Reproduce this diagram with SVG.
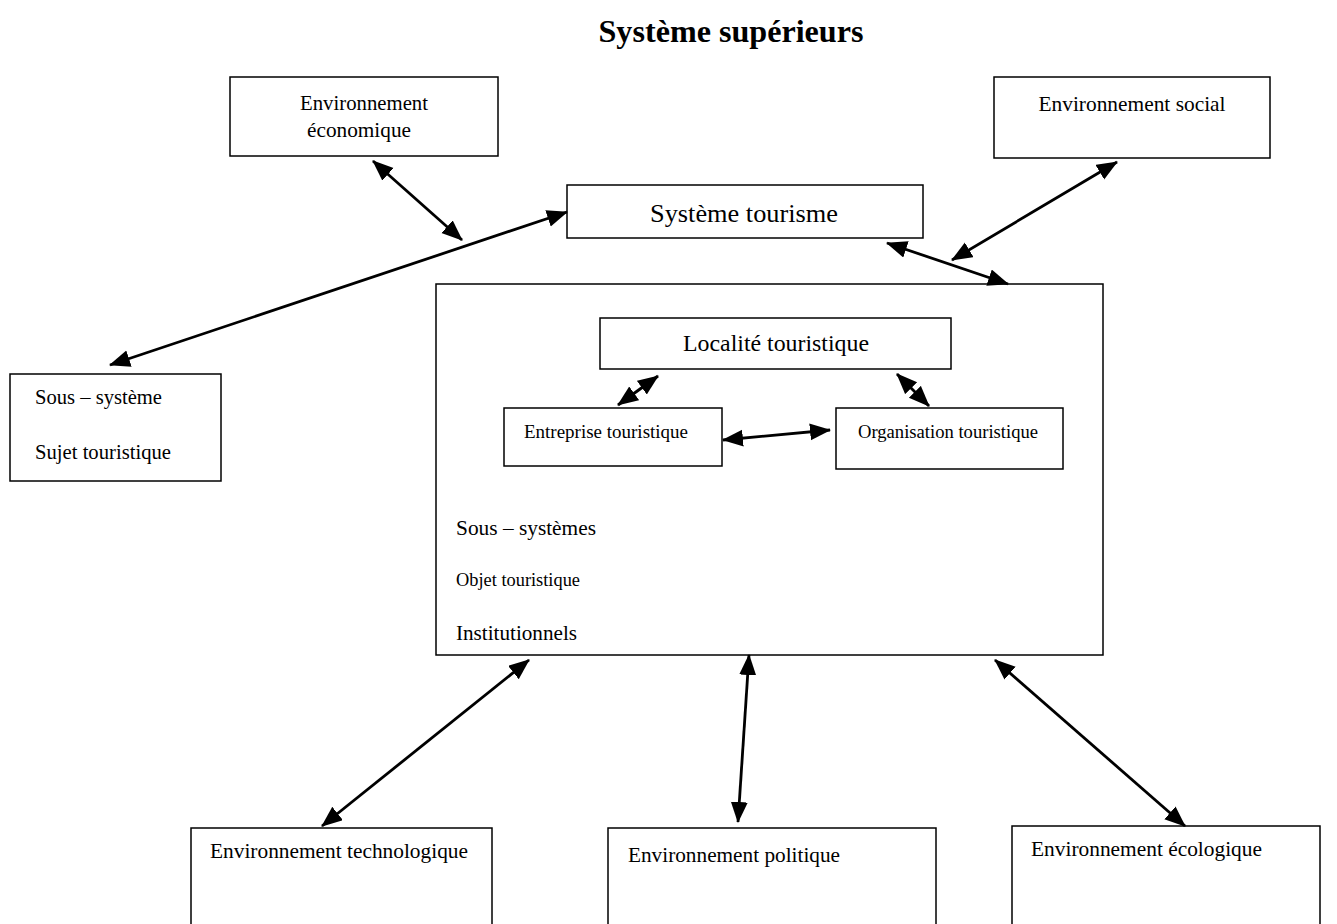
<svg xmlns="http://www.w3.org/2000/svg" width="1337" height="924" viewBox="0 0 1337 924">
  <style>
    .box { fill: #ffffff; stroke: #000000; stroke-width: 1.5; }
    text { font-family: 'Liberation Serif', 'Times New Roman', Times, serif; fill: #000000; }
    .link { stroke: #000000; stroke-width: 2.8; fill: none; marker-start: url(#head); marker-end: url(#head); }
  </style>
  <defs>
    <!-- filled triangular head, used at both ends of every link -->
    <marker id="head" markerUnits="userSpaceOnUse" markerWidth="22" markerHeight="18" refX="20" refY="8.5" orient="auto-start-reverse">
      <path d="M0,0 L21,8.5 L0,17 z" fill="#000000"/>
    </marker>
  </defs>

  <rect width="1337" height="924" fill="#ffffff"/>

  <text x="731" y="42" font-size="32" font-weight="bold" text-anchor="middle" textLength="265" lengthAdjust="spacingAndGlyphs">Système supérieurs</text>

  <g id="env-economique">
    <rect class="box" x="230" y="77" width="268" height="79"/>
    <text x="364" y="110" font-size="21" text-anchor="middle" textLength="128" lengthAdjust="spacingAndGlyphs">Environnement</text>
    <text x="359" y="137" font-size="21" text-anchor="middle" textLength="104" lengthAdjust="spacingAndGlyphs">économique</text>
  </g>

  <g id="env-social">
    <rect class="box" x="994" y="77" width="276" height="81"/>
    <text x="1132" y="111" font-size="21" text-anchor="middle" textLength="187" lengthAdjust="spacingAndGlyphs">Environnement social</text>
  </g>

  <g id="systeme-tourisme">
    <rect class="box" x="567" y="185" width="356" height="53"/>
    <text x="744" y="222" font-size="26" text-anchor="middle" textLength="188" lengthAdjust="spacingAndGlyphs">Système tourisme</text>
  </g>

  <g id="sous-systeme-sujet">
    <rect class="box" x="10" y="374" width="211" height="107"/>
    <text x="35" y="404" font-size="20.5" textLength="127" lengthAdjust="spacingAndGlyphs">Sous – système</text>
    <text x="35" y="459" font-size="20.5" textLength="136" lengthAdjust="spacingAndGlyphs">Sujet touristique</text>
  </g>

  <g id="sous-systemes-objet">
    <rect class="box" x="436" y="284" width="667" height="371"/>
    <text x="456" y="535" font-size="21" textLength="140" lengthAdjust="spacingAndGlyphs">Sous – systèmes</text>
    <text x="456" y="586" font-size="18" textLength="124" lengthAdjust="spacingAndGlyphs">Objet touristique</text>
    <text x="456" y="640" font-size="21" textLength="121" lengthAdjust="spacingAndGlyphs">Institutionnels</text>
  </g>

  <g id="localite-touristique">
    <rect class="box" x="600" y="318" width="351" height="51"/>
    <text x="776" y="351" font-size="24" text-anchor="middle" textLength="186" lengthAdjust="spacingAndGlyphs">Localité touristique</text>
  </g>

  <g id="entreprise-touristique">
    <rect class="box" x="504" y="408" width="218" height="58"/>
    <text x="524" y="438" font-size="18.5" textLength="164" lengthAdjust="spacingAndGlyphs">Entreprise touristique</text>
  </g>

  <g id="organisation-touristique">
    <rect class="box" x="836" y="408" width="227" height="61"/>
    <text x="858" y="438" font-size="18.5" textLength="180" lengthAdjust="spacingAndGlyphs">Organisation touristique</text>
  </g>

  <g id="env-technologique">
    <rect class="box" x="191" y="828" width="301" height="110"/>
    <text x="210" y="858" font-size="21" textLength="258" lengthAdjust="spacingAndGlyphs">Environnement technologique</text>
  </g>

  <g id="env-politique">
    <rect class="box" x="608" y="828" width="328" height="110"/>
    <text x="628" y="862" font-size="21" textLength="212" lengthAdjust="spacingAndGlyphs">Environnement politique</text>
  </g>

  <g id="env-ecologique">
    <rect class="box" x="1012" y="826" width="308" height="112"/>
    <text x="1031" y="856" font-size="21" textLength="231" lengthAdjust="spacingAndGlyphs">Environnement écologique</text>
  </g>

  <g id="connectors">
    <line class="link" x1="373" y1="161" x2="462" y2="240"/>
    <line class="link" x1="567" y1="212" x2="110" y2="365"/>
    <line class="link" x1="1117" y1="162" x2="952" y2="260"/>
    <line class="link" x1="887" y1="243" x2="1008" y2="284"/>
    <line class="link" x1="658" y1="376" x2="618" y2="405"/>
    <line class="link" x1="897" y1="374" x2="929" y2="406"/>
    <line class="link" x1="723" y1="440" x2="830" y2="430"/>
    <line class="link" x1="529" y1="660" x2="322" y2="826"/>
    <line class="link" x1="749" y1="655" x2="738" y2="822"/>
    <line class="link" x1="995" y1="660" x2="1185" y2="826"/>
  </g>
</svg>
